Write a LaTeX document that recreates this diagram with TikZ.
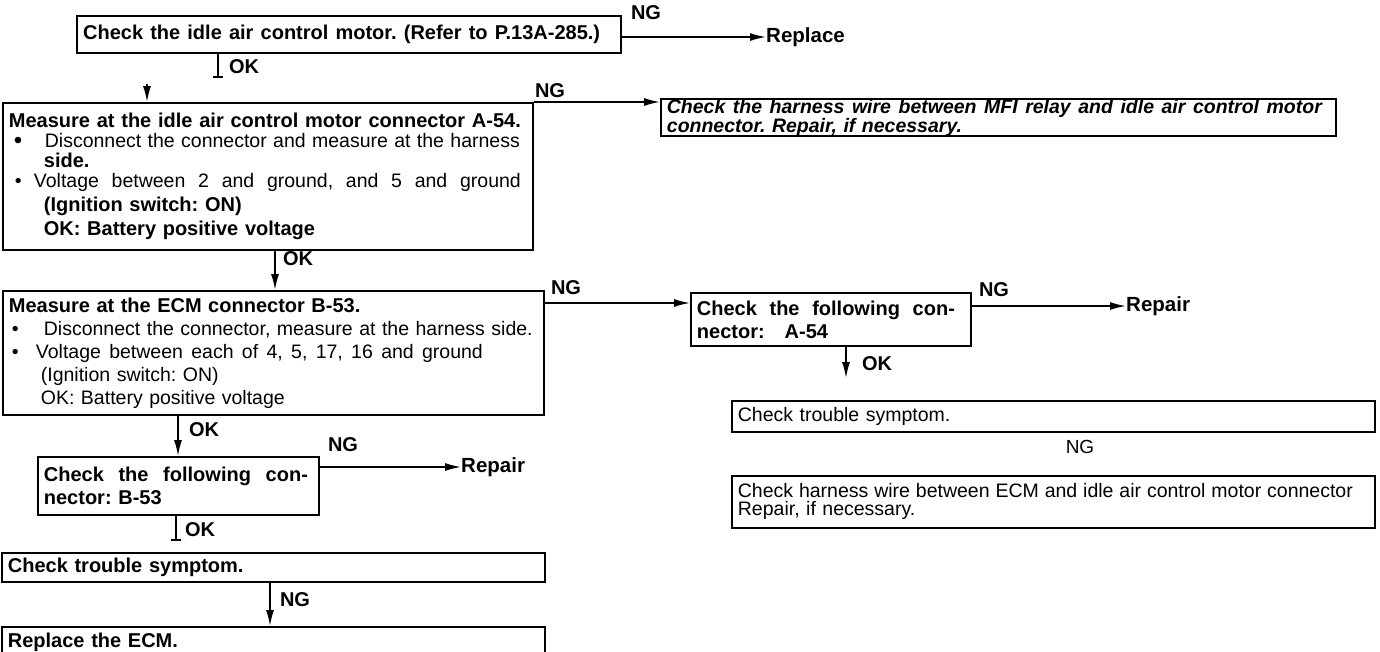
\documentclass[tikz,border=0pt]{standalone}
\usepackage{fontspec}
\setmainfont{Liberation Sans}
\usetikzlibrary{arrows.meta,calc}
\frenchspacing
\newcommand\fB{\fontsize{20}{20}\selectfont\bfseries}
\newcommand\fR{\fontsize{19.5}{20}\selectfont\mdseries\upshape}
\newcommand\jl[2]{\makebox[#1pt][s]{\spaceskip=\fontdimen2\font plus 1fil\relax #2}}
\begin{document}
\begin{tikzpicture}[x=1pt,y=-1pt,
  box/.style={draw, line width=1.8pt, anchor=north west, inner xsep=6pt, inner ysep=0pt, align=left},
  arr/.style={line width=1.6pt, -{Latex[length=16pt,width=8pt]}},
  conn/.style={line width=1.6pt},
  lbl/.style={font=\fontsize{20}{20}\selectfont\bfseries, inner sep=0pt},
  res/.style={font=\fontsize{20.5}{22}\selectfont\bfseries, inner sep=0pt, anchor=west}]
\useasboundingbox (0,0) rectangle (1380,651);

% boxes
\node[box, line width=2.2pt, text width=532pt, minimum height=37pt, font=\fB] (b1) at (76,15)
  {\jl{517}{Check the idle air control motor. (Refer to P.13A-285.)}};

\node[box, text width=518pt, minimum height=147pt, font=\fB] (b2) at (2,102)
  {\jl{512}{Measure at the idle air control motor connector A-54.}\\
   {\fR\makebox[36pt][l]{\hspace{5pt}\raisebox{-1pt}{\fontsize{24}{20}\selectfont\textbullet}}\jl{475}{Disconnect the connector and measure at the harness}}\\
   \hspace*{35pt}side.\\
   {\fR\makebox[25pt][l]{\hspace{6pt}\textbullet}\jl{487}{Voltage between 2 and ground, and 5 and ground}}\\[4pt]
   \hspace*{35pt}(Ignition switch: ON)\\[4pt]
   \hspace*{35pt}OK: Battery positive voltage};

\node[box, text width=663pt, minimum height=36pt, font=\fontsize{19.5}{16}\selectfont\bfseries\itshape] (b4) at (660,98)
  {\jl{655}{Check the harness wire between MFI relay and idle air control motor}\\
   connector. Repair, if necessary.};

\node[box, text width=529pt, minimum height=124pt, font=\fontsize{19.5}{23}\selectfont] (b3) at (2,290)
  {{\fontsize{20}{23}\selectfont\bfseries Measure at the ECM connector B-53.}\\
   \makebox[35pt][l]{\hspace{3pt}\textbullet}Disconnect the connector, measure at the harness side.\\
   \makebox[27pt][l]{\hspace{3pt}\textbullet}\jl{447}{Voltage between each of 4, 5, 17, 16 and ground}\\
   \hspace*{32pt}(Ignition switch: ON)\\
   \hspace*{32pt}OK: Battery positive voltage};

\node[box, text width=268pt, minimum height=53pt, font=\fontsize{20}{23}\selectfont\bfseries] (b5) at (690,292)
  {\jl{258}{Check the following con-}\\
   nector:\ \ \ A-54};

\node[box, text width=631pt, minimum height=31pt, font=\fR] (b6) at (731,400)
  {Check trouble symptom.};

\node[box, text width=631pt, minimum height=52pt, font=\fontsize{19.5}{18}\selectfont] (b7) at (731,475)
  {\jl{615}{Check harness wire between ECM and idle air control motor connector}\\
   Repair, if necessary.};

\node[box, text width=269pt, minimum height=58pt, font=\fontsize{20}{23}\selectfont\bfseries] (b8) at (37,456)
  {\jl{264}{Check the following con-}\\
   nector: B-53};

\node[box, text width=531pt, minimum height=29pt, font=\fB] (b9) at (1,552)
  {Check trouble symptom.};

\node[box, text width=531pt, minimum height=30pt, font=\fB] (b10) at (1,626)
  {Replace the ECM.};

% results
\node[res] (r1) at (766,37) {Replace};
\node[res] (r5) at (1126,306) {Repair};
\node[res] (r8) at (461,467) {Repair};

% named free ends
\coordinate (t1) at (218,77);
\coordinate (s2) at (147,84);
\coordinate (x2) at (275,0);
\coordinate (x3) at (178,0);
\coordinate (o5) at (846,378);
\coordinate (t8) at (176,540);
\coordinate (x9) at (270,0);
\coordinate (n3) at ($(b3.north east)+(0,13)$);

% connectors
\draw[arr] (b1.east |- r1.west) -- (r1.west);
\node[lbl] at (646,13) {NG};

\draw[conn] (b1.south -| t1) -- (t1);
\draw[conn] ($(t1)+(-5,0)$) -- ($(t1)+(5,0)$);
\node[lbl] at (244,67) {OK};

\draw[arr] (s2) -- (s2 |- b2.north);

\draw[arr] (b2.north east) -- (b2.north east -| b4.west);
\node[lbl] at (550,91) {NG};

\draw[arr] (b2.south -| x2) -- (b3.north -| x2);
\node[lbl] at (298,259) {OK};

\draw[arr] (n3) -- (n3 -| b5.west);
\node[lbl] at (566,288) {NG};

\draw[arr] (b5.east |- r5.west) -- (r5.west);
\node[lbl] at (994,290) {NG};

\draw[arr] (b5.south -| o5) -- (o5);
\node[lbl] at (877,364) {OK};

\node[font=\fontsize{19}{20}\selectfont, inner sep=0pt] at (1080,447) {NG};

\draw[arr] (b3.south -| x3) -- (b8.north -| x3);
\node[lbl] at (204,430) {OK};

\draw[arr] (b8.east |- r8.west) -- (r8.west);
\node[lbl] at (343,445) {NG};

\draw[conn] (b8.south -| t8) -- (t8);
\draw[conn] ($(t8)+(-5,0)$) -- ($(t8)+(5,0)$);
\node[lbl] at (200,530) {OK};

\draw[arr] (b9.south -| x9) -- (b10.north -| x9);
\node[lbl] at (295,600) {NG};
\end{tikzpicture}
\end{document}
